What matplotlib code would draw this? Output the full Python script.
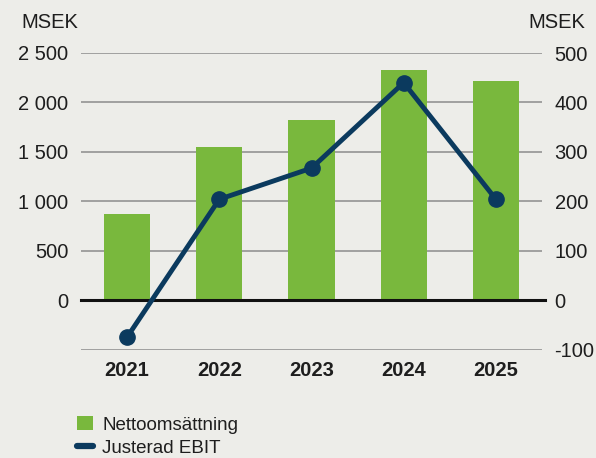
import matplotlib
matplotlib.use("Agg")
import matplotlib.pyplot as plt
from matplotlib.lines import Line2D
from matplotlib.patches import Patch

years = ["2021", "2022", "2023", "2024", "2025"]
nettoomsattning = [870, 1552, 1822, 2328, 2217]
justerad_ebit = [-75, 204, 267, 440, 204]
left_ticks = [0, 500, 1000, 1500, 2000, 2500]
left_labels = ["0", "500", "1 000", "1 500", "2 000", "2 500"]
right_ticks = [-100, 0, 100, 200, 300, 400, 500]
right_labels = ["-100", "0", "100", "200", "300", "400", "500"]

bg = "#EDEDE9"
green = "#79B83D"
navy = "#0B3A5E"
grid_col = "#9A9A9A"
txt = "#1E1E1E"

plt.rcParams['font.family'] = ['Liberation Sans', 'DejaVu Sans']
plt.rcParams['axes.unicode_minus'] = False

fig = plt.figure(figsize=(5.96, 4.58), dpi=100, facecolor=bg)
ax = fig.add_axes([81/596, 1 - 349.5/458, 461/596, (349.5 - 53)/458])
ax.set_facecolor(bg)
ax2 = ax.twinx()

x = list(range(len(years)))
ax.bar(x, nettoomsattning, width=0.5, color=green, zorder=2)

# grid lines
for v in [-500, 500, 1000, 1500, 2000, 2500]:
    ax.axhline(v, color=grid_col, lw=1.3, zorder=1)
ax.axhline(0, color="#111111", lw=2.2, zorder=3, xmax=1.007, clip_on=False)

ax.set_xlim(-0.5, 4.5)
ax.set_ylim(-500, 2500)
ax2.set_ylim(-100, 500)

ax2.plot(x, justerad_ebit, color=navy, lw=3.5, marker="o", markersize=11,
         solid_capstyle="round", zorder=5)

ax.set_yticks(left_ticks)
ax.set_yticklabels(left_labels)
ax2.set_yticks(right_ticks)
ax2.set_yticklabels(right_labels)
ax.set_xticks(x)
ax.set_xticklabels(years, fontweight="bold")

for a in (ax, ax2):
    for s in a.spines.values():
        s.set_visible(False)
    a.tick_params(length=0, labelsize=14.5, colors=txt)
ax.tick_params(axis="y", pad=9)
ax2.tick_params(axis="y", pad=9)
ax.tick_params(axis="x", pad=8)

fig.text(21/596, 1 - 22/458, "MSEK", fontsize=14.5, color=txt, va="center", ha="left")
fig.text(585/596, 1 - 22/458, "MSEK", fontsize=14.5, color=txt, va="center", ha="right")

handles = [Patch(facecolor=green, edgecolor="none"),
           Line2D([0], [0], color=navy, lw=4.5, solid_capstyle="round")]
fig.legend(handles, ["Nettoomsättning", "Justerad EBIT"], loc="upper left",
           bbox_to_anchor=(77/596, 1 - 416/458), frameon=False, fontsize=13.5,
           handlelength=0.85, handleheight=0.8, handletextpad=0.5,
           labelspacing=0.28, borderpad=0, borderaxespad=0, labelcolor=txt)

fig.savefig("out.png", dpi=100, facecolor=bg)
